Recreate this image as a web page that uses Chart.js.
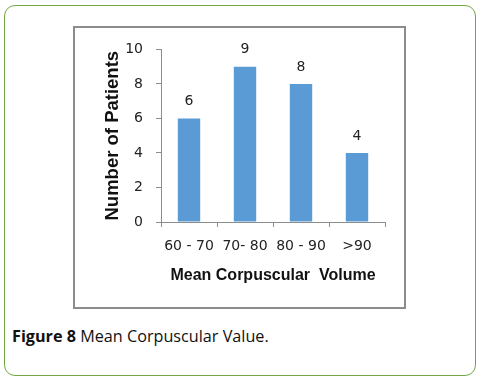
<!DOCTYPE html>
<html>
<head>
<meta charset="utf-8">
<script src="https://cdn.jsdelivr.net/npm/chart.js@4.4.0/dist/chart.umd.min.js"></script>
<style>
  html, body { margin: 0; padding: 0; background: #fff; width: 480px; height: 380px; overflow: hidden; }
  #frame { position: absolute; left: 4px; top: 5px; width: 472px; height: 371px; box-sizing: border-box;
           border: 1.5px solid #72a843; border-radius: 11px; }
  #plot { position: absolute; left: 73px; top: 26px; width: 333px; height: 283px; box-sizing: border-box;
          border: 2px solid #8c8c8c; background: #fff; }
  #plot canvas { display: block; }
  #caption { position: absolute; left: 12px; top: 325px; font-family: "Open Sans", sans-serif; font-size: 16.2px; color: #111; white-space: nowrap; }
  #caption b { font-weight: 700; }
</style>
</head>
<body>
<div id="frame"></div>
<div id="plot"><canvas id="c" width="329" height="279"></canvas></div>
<div id="caption"><b>Figure 8</b> Mean Corpuscular Value.</div>
<script>
const categories = ["60 - 70", "70- 80", "80 - 90", ">90"];
const patientCounts = [6, 9, 8, 4];
const yTicks = [0, 2, 4, 6, 8, 10];
const xTitle = "Mean Corpuscular  Volume";
const yTitle = "Number of Patients";

const axisColor = "#8c8c8c";
const barColor = "#5b9bd5";

const dataLabels = {
  id: "dataLabels",
  afterDatasetsDraw(chart) {
    const ctx = chart.ctx;
    const meta = chart.getDatasetMeta(0);
    ctx.save();
    ctx.font = '14px "DejaVu Sans"';
    ctx.fillStyle = "#222";
    ctx.textAlign = "center";
    ctx.textBaseline = "middle";
    meta.data.forEach((bar, i) => {
      ctx.fillText(String(chart.data.datasets[0].data[i]), bar.x, bar.y - 17);
    });
    ctx.restore();
  }
};

new Chart(document.getElementById("c"), {
  type: "bar",
  data: {
    labels: categories,
    datasets: [{
      data: patientCounts,
      backgroundColor: barColor,
      borderWidth: 0,
      categoryPercentage: 1.0,
      barPercentage: 0.4
    }]
  },
  options: {
    responsive: false,
    animation: false,
    devicePixelRatio: 1,
    layout: { padding: { left: 0, right: 19, top: 18, bottom: 0 } },
    plugins: { legend: { display: false }, tooltip: { enabled: false } },
    scales: {
      x: {
        grid: { display: true, drawOnChartArea: false, drawTicks: true, tickLength: 5, color: axisColor, offset: true },
        border: { display: true, color: axisColor, width: 1 },
        ticks: { color: "#222", font: { family: "DejaVu Sans", size: 14 }, padding: 11, maxRotation: 0 },
        title: { display: true, text: xTitle, color: "#111", font: { family: "Liberation Sans", size: 16, weight: "bold" }, padding: { top: 0, bottom: 22 } },
        afterFit(scale) { scale.height = 85; }
      },
      y: {
        min: 0, max: 10,
        afterBuildTicks(scale) { scale.ticks = yTicks.map(v => ({ value: v })); },
        grid: { display: true, drawOnChartArea: false, drawTicks: true, tickLength: 5, color: axisColor },
        border: { display: true, color: axisColor, width: 1 },
        ticks: { color: "#222", font: { family: "DejaVu Sans", size: 14 }, padding: 13 },
        title: { display: true, text: yTitle, color: "#111", font: { family: "Liberation Sans", size: 18.5, weight: "bold" }, padding: { top: 27, bottom: 0 } },
        afterFit(scale) { scale.width = 86; }
      }
    }
  },
  plugins: [dataLabels]
});
</script>
</body>
</html>
